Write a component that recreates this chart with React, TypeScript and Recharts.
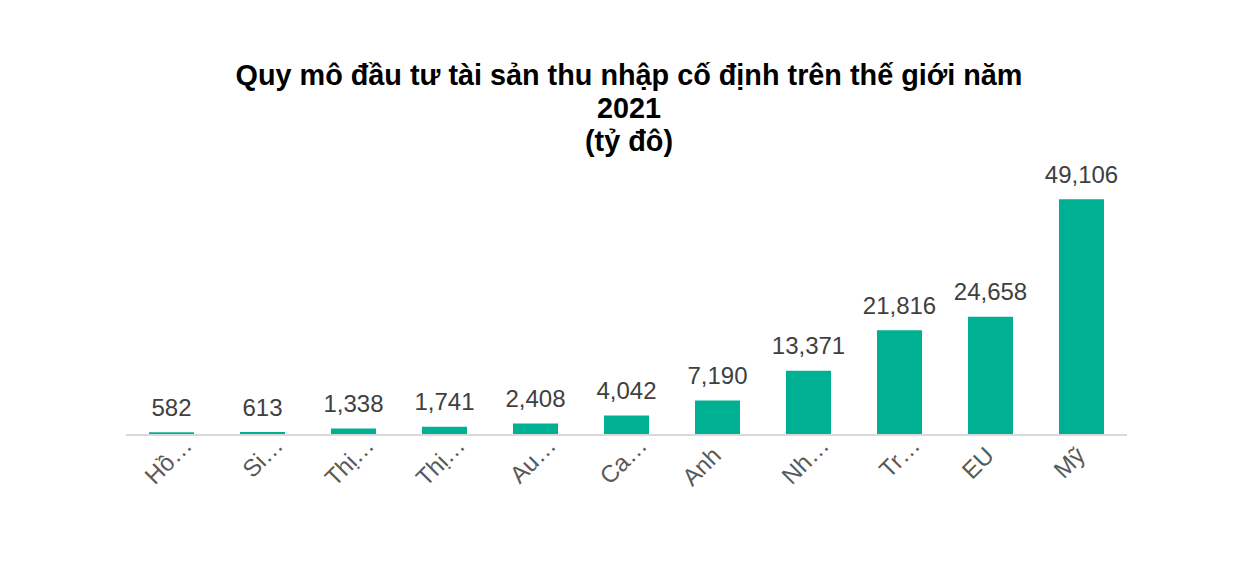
import React from "react";
import { BarChart, Bar, XAxis, YAxis, LabelList } from "recharts";

const categories = ["Hồ…", "Si…", "Thị…", "Thị…", "Au…", "Ca…", "Anh", "Nh…", "Tr…", "EU", "Mỹ"];
const values = [582, 613, 1338, 1741, 2408, 4042, 7190, 13371, 21816, 24658, 49106];
const titleLines = ["Quy mô đầu tư tài sản thu nhập cố định trên thế giới năm", "2021", "(tỷ đô)"];

const data = categories.map((c, i) => ({ name: c, value: values[i] }));

const FONT = "'Liberation Sans', Arial, sans-serif";

const Tick = (props: any) => {
  const { x, y, payload } = props;
  const label: string = payload.value;
  const truncated = label.endsWith("…");
  const ax = x + (truncated ? 22 : 5);
  const ay = y + (truncated ? 12 : 22);
  return (
    <text
      x={ax}
      y={ay}
      transform={`rotate(-45, ${ax}, ${ay})`}
      textAnchor="end"
      fontSize={24}
      fill="#595959"
      fontFamily={FONT}
    >
      {label}
    </text>
  );
};

const ValueLabel = (props: any) => {
  const { x, y, width, value } = props;
  return (
    <text
      x={x + width / 2}
      y={y - 16.5}
      textAnchor="middle"
      fontSize={24}
      fill="#404040"
      fontFamily={FONT}
    >
      {Number(value).toLocaleString("en-US")}
    </text>
  );
};

export default function App() {
  return (
    <div style={{ position: "absolute", left: 0, top: 0, width: 1247, height: 562, background: "#fff" }}>
      <svg
        width={1247}
        height={170}
        style={{ position: "absolute", left: 0, top: 0 }}
      >
        {titleLines.map((t, i) => (
          <text
            key={i}
            x={629}
            y={[85, 118, 151][i]}
            textAnchor="middle"
            fontSize={28.8}
            fontWeight="bold"
            fill="#000"
            fontFamily={FONT}
          >
            {t}
          </text>
        ))}
      </svg>
      <div style={{ position: "absolute", left: 0, top: 0 }}>
        <BarChart
          width={1247}
          height={562}
          data={data}
          margin={{ top: 171, right: 120, bottom: 67, left: 126 }}
          barSize={45}
        >
          <XAxis
            dataKey="name"
            height={60}
            tickLine={false}
            tickSize={0}
            tickMargin={0}
            axisLine={{ stroke: "#D9D9D9", strokeWidth: 2 }}
            tick={<Tick />}
            interval={0}
          />
          <YAxis hide domain={[0, 55000]} />
          <Bar dataKey="value" fill="#00B092" isAnimationActive={false}>
            <LabelList dataKey="value" content={<ValueLabel />} />
          </Bar>
        </BarChart>
      </div>
    </div>
  );
}
